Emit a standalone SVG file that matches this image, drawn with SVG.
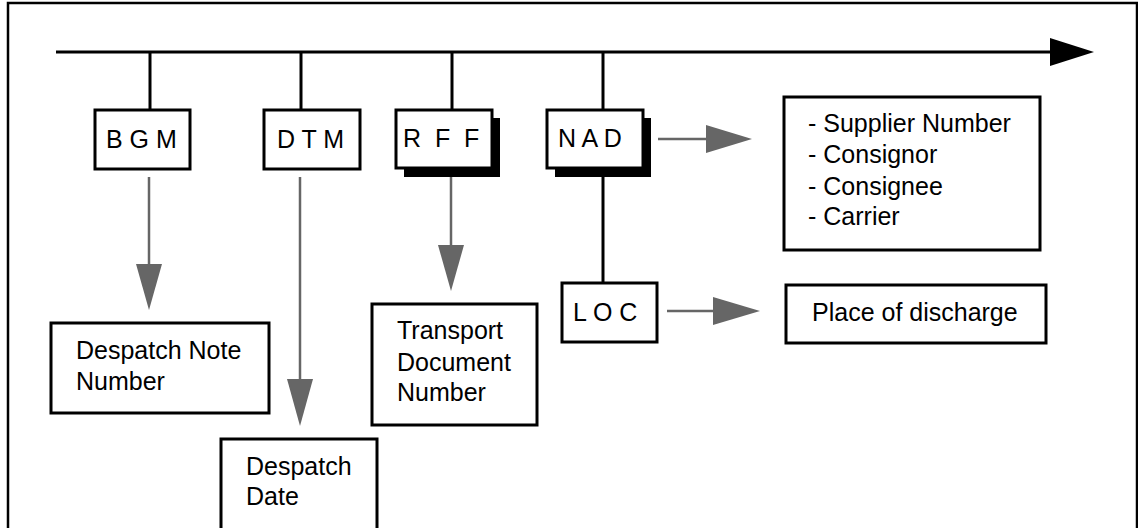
<svg xmlns="http://www.w3.org/2000/svg" width="1138" height="528" viewBox="0 0 1138 528">
<style>
  .box { fill: #fff; stroke: #000; stroke-width: 3; }
  .shadow { fill: #000; }
  .t { font-family: "Liberation Sans", Arial, sans-serif; font-size: 25px; fill: #000; }
  .bl { stroke: #000; stroke-width: 3; fill: none; }
  .gl { stroke: #666; stroke-width: 2.5; fill: none; }
  .gh { fill: #666; }
</style>
<rect x="0" y="0" width="1138" height="528" fill="#fff"/>
<rect x="8" y="3" width="1129" height="530" fill="none" stroke="#000" stroke-width="2.5"/>

<g id="connectors">
  <line class="bl" x1="56" y1="52" x2="1052" y2="52"/>
  <polygon fill="#000" points="1050,38 1094,52 1050,66"/>
  <line class="bl" x1="150" y1="52" x2="150" y2="110"/>
  <line class="bl" x1="301" y1="52" x2="301" y2="110"/>
  <line class="bl" x1="452" y1="52" x2="452" y2="110"/>
  <line class="bl" x1="603" y1="52" x2="603" y2="110"/>
  <line class="bl" x1="603" y1="176" x2="603" y2="283"/>

  <line class="gl" x1="149" y1="177" x2="149" y2="266"/>
  <polygon class="gh" points="136,264 162,264 149,310"/>
  <line class="gl" x1="300" y1="177" x2="300" y2="381"/>
  <polygon class="gh" points="287,379 313,379 300,426"/>
  <line class="gl" x1="451" y1="177" x2="451" y2="247"/>
  <polygon class="gh" points="438,245 464,245 451,291"/>
  <line class="gl" x1="658" y1="139" x2="708" y2="139"/>
  <polygon class="gh" points="706,125 752,139 706,153"/>
  <line class="gl" x1="667" y1="311" x2="715" y2="311"/>
  <polygon class="gh" points="713,297 760,311 713,325"/>
</g>

<g id="BGM">
  <rect class="box" x="95" y="110" width="95" height="59"/>
  <text class="t" x="106" y="148">B G M</text>
</g>
<g id="DTM">
  <rect class="box" x="264" y="110" width="96" height="59"/>
  <text class="t" x="277" y="148">D T M</text>
</g>
<g id="RFF">
  <rect class="shadow" x="404" y="118" width="96" height="59"/>
  <rect class="box" x="396" y="110" width="96" height="58"/>
  <text class="t" y="147"><tspan x="403">R</tspan><tspan x="435">F</tspan><tspan x="464">F</tspan></text>
</g>
<g id="NAD">
  <rect class="shadow" x="555" y="118" width="96" height="59"/>
  <rect class="box" x="547" y="110" width="96" height="58"/>
  <text class="t" x="558" y="147">N A D</text>
</g>
<g id="LOC">
  <rect class="box" x="562" y="283" width="95" height="59"/>
  <text class="t" x="573" y="321">L O C</text>
</g>
<g id="parties">
  <rect class="box" x="784" y="97" width="256" height="153"/>
  <text class="t" x="808" y="132">- Supplier Number</text>
  <text class="t" x="808" y="163">- Consignor</text>
  <text class="t" x="808" y="195">- Consignee</text>
  <text class="t" x="808" y="225">- Carrier</text>
</g>
<g id="place">
  <rect class="box" x="786" y="285" width="260" height="58"/>
  <text class="t" x="812" y="321">Place of discharge</text>
</g>
<g id="despatchNote">
  <rect class="box" x="51" y="323" width="218" height="90"/>
  <text class="t" x="76" y="359">Despatch Note</text>
  <text class="t" x="76" y="390">Number</text>
</g>
<g id="transport">
  <rect class="box" x="372" y="304" width="165" height="121"/>
  <text class="t" x="397" y="339">Transport</text>
  <text class="t" x="397" y="371">Document</text>
  <text class="t" x="397" y="401">Number</text>
</g>
<g id="despatchDate">
  <rect class="box" x="221" y="439" width="156" height="100"/>
  <text class="t" x="246" y="475">Despatch</text>
  <text class="t" x="246" y="505">Date</text>
</g>
</svg>
